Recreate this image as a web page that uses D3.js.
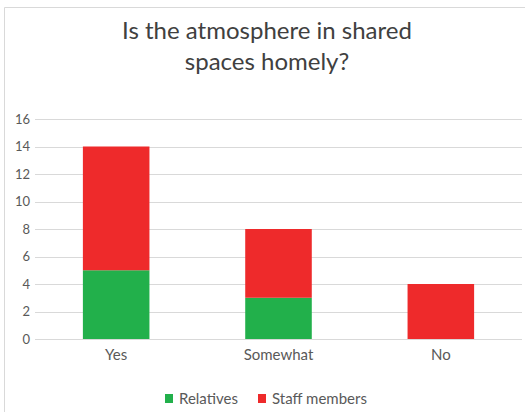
<!DOCTYPE html>
<html><head><meta charset="utf-8">
<script src="https://cdn.jsdelivr.net/npm/d3@7"></script>
<style>html,body{margin:0;padding:0;background:#fff;}</style>
</head><body>
<svg id="c" width="526" height="412"></svg>
<script>
const categories = ["Yes", "Somewhat", "No"];
const relatives = [5, 3, 0];
const staffMembers = [9, 5, 4];
const seriesNames = ["Relatives", "Staff members"];
const yTicks = [0, 2, 4, 6, 8, 10, 12, 14, 16];
const colors = ["#22b04b", "#ee2a2b"];

const svg = d3.select("#c");
const font = "Lato, 'Open Sans', sans-serif";

// chart border
svg.append("path").attr("d", `M525,7.5 H4.5 V412`).attr("fill", "none").attr("stroke", "#d9d9d9");

const x = d3.scaleBand().domain(categories).range([35, 522]).paddingInner(0.59).paddingOuter(0.295);
const y = d3.scaleLinear().domain([0, 16]).range([339, 119]);

// gridlines
svg.append("g").selectAll("line").data(yTicks).join("line")
  .attr("x1", 35).attr("x2", 522)
  .attr("y1", d => Math.round(y(d)) + 0.5).attr("y2", d => Math.round(y(d)) + 0.5)
  .attr("stroke", "#d9d9d9").attr("stroke-width", 1.2);

const table = categories.map((c, i) => ({cat: c, Relatives: relatives[i], "Staff members": staffMembers[i]}));
const stack = d3.stack().keys(seriesNames)(table);

svg.append("g").selectAll("g").data(stack).join("g")
  .attr("fill", (d, i) => colors[i])
  .selectAll("rect").data(d => d).join("rect")
  .attr("x", d => x(d.data.cat))
  .attr("width", x.bandwidth())
  .attr("y", d => y(d[1]))
  .attr("height", d => y(d[0]) - y(d[1]));

// y axis labels
const yAxis = d3.axisLeft(y).tickValues(yTicks).tickSize(0).tickPadding(6);
const ya = svg.append("g").attr("transform", "translate(36,0)").call(yAxis);
ya.select(".domain").remove();
ya.selectAll("text").attr("font-family", font).attr("font-size", 13).attr("fill", "#595959");

// x axis labels
const xAxis = d3.axisBottom(x).tickSize(0).tickPadding(0);
const xa = svg.append("g").attr("transform", "translate(0,349)").call(xAxis);
xa.select(".domain").remove();
xa.selectAll("text").attr("font-family", font).attr("font-size", 15).attr("fill", "#595959");

// title
const title = svg.append("text").attr("text-anchor", "middle").attr("font-family", font)
  .attr("font-size", 24).attr("fill", "#404040");
title.append("tspan").attr("x", 267).attr("y", 39).text("Is the atmosphere in shared");
title.append("tspan").attr("x", 267).attr("y", 70).text("spaces homely?");

// legend
const legend = [{name: seriesNames[0], x: 165}, {name: seriesNames[1], x: 258}];
const lg = svg.append("g").selectAll("g").data(legend).join("g")
  .attr("transform", d => `translate(${d.x},394)`);
lg.append("rect").attr("width", 8).attr("height", 9).attr("fill", (d, i) => colors[i]);
lg.append("text").attr("x", 14).attr("y", 10).attr("font-family", font).attr("font-size", 15)
  .attr("fill", "#595959").text(d => d.name);
</script>
</body></html>
